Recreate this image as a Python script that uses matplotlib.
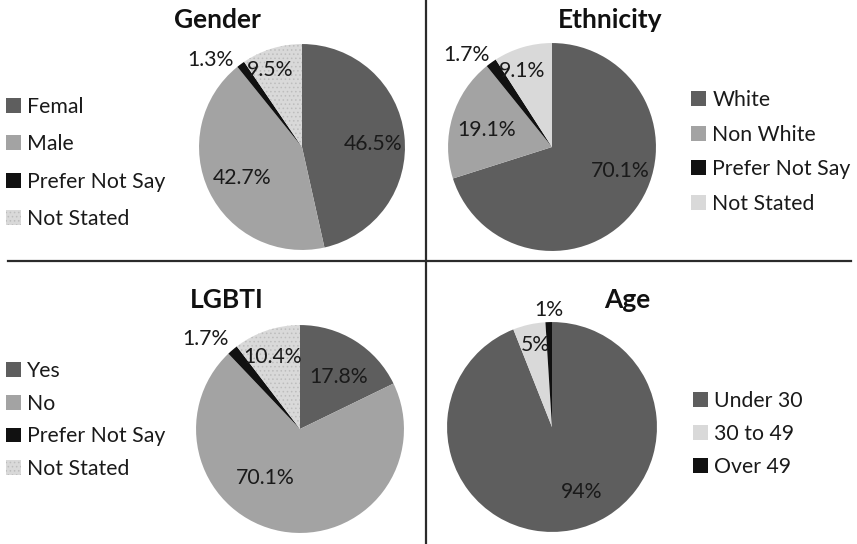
import matplotlib
matplotlib.use("Agg")
import matplotlib.pyplot as plt
from matplotlib.lines import Line2D

plt.rcParams["font.family"] = ["Lato", "DejaVu Sans"]
plt.rcParams["hatch.linewidth"] = 0.6

W, H = 857, 544

# ---- data ----
gender_labels = ["Femal", "Male", "Prefer Not Say", "Not Stated"]
gender_values = [46.5, 42.7, 1.3, 9.5]

ethnicity_labels = ["White", "Non White", "Prefer Not Say", "Not Stated"]
ethnicity_values = [70.1, 19.1, 1.7, 9.1]

lgbti_labels = ["Yes", "No", "Prefer Not Say", "Not Stated"]
lgbti_values = [17.8, 70.1, 1.7, 10.4]

age_labels = ["Under 30", "30 to 49", "Over 49"]
age_values = [94, 5, 1]

# colours
DARK = "#5e5e5e"
MID = "#a3a3a3"
BLACK = "#111111"
LIGHT = "#d9d9d9"

TXT = 15.3


def fx(px):
    return px / W


def fy(py):
    return 1 - py / H


def draw_pie(values, labels, colors, hatches, center, radius, title, title_pos,
             label_pos, legend_pos, legend_spacing, fmt="{:.1f}%"):
    cx, cy = center
    r = radius
    ax = fig.add_axes([fx(cx - r), fy(cy + r), 2 * r / W, 2 * r / H])
    wedges, _ = ax.pie(values, colors=colors, startangle=90, counterclock=False,
                       radius=1.0, wedgeprops=dict(linewidth=0))
    for w, h in zip(wedges, hatches):
        if h:
            w.set_hatch(h)
            w.set_edgecolor("#bdbdbd")
            w.set_linewidth(0)
    ax.set_xlim(-1.01, 1.01)
    ax.set_ylim(-1.01, 1.01)
    ax.set_aspect("equal")
    ax.axis("off")

    # value labels
    for v, (px, py) in zip(values, label_pos):
        fig.text(fx(px), fy(py), fmt.format(v), ha="center", va="center",
                 fontsize=TXT, color="#1a1a1a")

    fig.text(fx(title_pos[0]), fy(title_pos[1]), title, ha="center", va="center",
             fontsize=19, fontweight="bold", color="#111111")

    fig.legend(wedges, labels, loc="center left",
               bbox_to_anchor=(fx(legend_pos[0]), fy(legend_pos[1])),
               frameon=False, fontsize=TXT, handlelength=0.7, handleheight=0.7,
               handletextpad=0.3, labelspacing=legend_spacing, borderaxespad=0,
               borderpad=0, labelcolor="#1a1a1a")


fig = plt.figure(figsize=(W / 100, H / 100), dpi=100)
fig.patch.set_facecolor("white")

draw_pie(gender_values, gender_labels, [DARK, MID, BLACK, LIGHT],
         [None, None, None, "...."],
         center=(302, 147), radius=104, title="Gender", title_pos=(217, 20),
         label_pos=[(373, 144), (242, 178), (210, 60), (270, 70)],
         legend_pos=(6, 163), legend_spacing=0.82)

draw_pie(ethnicity_values, ethnicity_labels, [DARK, MID, BLACK, LIGHT],
         [None, None, None, None],
         center=(552, 147), radius=105, title="Ethnicity", title_pos=(610, 20),
         label_pos=[(620, 171), (487, 130), (466, 55), (522, 71)],
         legend_pos=(691, 152), legend_spacing=0.68)

draw_pie(lgbti_values, lgbti_labels, [DARK, MID, BLACK, LIGHT],
         [None, None, None, "...."],
         center=(300, 429), radius=105, title="LGBTI", title_pos=(227, 300),
         label_pos=[(339, 377), (265, 478), (205, 339), (273, 357)],
         legend_pos=(6, 420), legend_spacing=0.60)

draw_pie(age_values, age_labels, [DARK, LIGHT, BLACK],
         [None, None, None],
         center=(552, 427), radius=106, title="Age", title_pos=(627, 300),
         label_pos=[(582, 492), (535, 345), (549, 310)],
         legend_pos=(693, 434), legend_spacing=0.62, fmt="{:.0f}%")

# quadrant dividers
fig.add_artist(Line2D([fx(425.5), fx(425.5)], [fy(0), fy(544)],
                      color="#2b2b2b", linewidth=1.6, transform=fig.transFigure))
fig.add_artist(Line2D([fx(8), fx(851)], [fy(261), fy(261)],
                      color="#2b2b2b", linewidth=1.6, transform=fig.transFigure))

fig.savefig("out.png", dpi=100, facecolor="white")
